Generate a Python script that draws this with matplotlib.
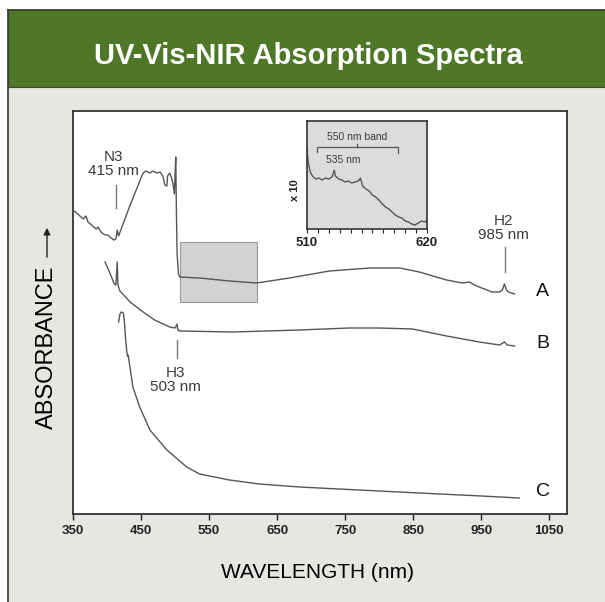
import matplotlib.pyplot as plt
from matplotlib.patches import Rectangle
from matplotlib.lines import Line2D

plt.rcParams['font.family'] = ['Liberation Sans', 'DejaVu Sans']

# spectra, wavelength (nm) vs absorbance (arbitrary units, offset per trace)
a_nm = [350, 357, 365, 369, 372, 379, 384, 387, 391, 397, 401, 406, 410, 413, 415, 417,
        434, 453, 457, 463, 467, 473, 478, 482, 485, 488, 489, 492, 495, 497, 499, 500,
        501, 502, 503, 505, 507, 536, 580, 620, 668, 727, 786, 830, 859, 899, 922, 933,
        940, 947, 966, 977, 981, 984, 987, 990, 999]
a_abs = [304, 300, 295, 298, 292, 288, 285, 287, 282, 279, 279, 276, 274, 275, 284, 278,
         309, 341, 343, 341, 343, 341, 342, 338, 329, 328, 338, 341, 336, 330, 320, 340,
         357, 300, 260, 240, 237, 236, 233, 231, 236, 243, 246, 246, 242, 234, 231, 232,
         229, 227, 222, 222, 224, 230, 224, 222, 220]

b_nm = [397, 401, 406, 410, 413, 415, 416, 419, 434, 453, 470, 492, 500, 503, 504, 507,
        585, 683, 756, 800, 849, 899, 947, 977, 984, 988, 999]
b_abs = [252, 246, 238, 231, 229, 252, 229, 223, 212, 202, 194, 187, 186, 190, 184, 183,
         182, 184, 186, 186, 185, 178, 172, 169, 172, 169, 168]

c_nm = [417, 419, 421, 424, 425, 426, 427, 428.8, 430, 431, 433.7, 438, 448, 463, 488,
        517, 536, 580, 624, 683, 712, 800, 859, 950, 1006]
c_abs = [192, 200, 202, 201, 196, 188, 178, 164, 158, 159, 147, 127, 107, 84, 64,
         47, 40, 34, 30, 27, 26, 23, 21, 18, 16]

# x10 expanded view of trace A, 510-620 nm
ins_nm = [510, 511, 513, 515, 518, 521, 524, 527, 530, 533, 535, 536, 539, 542, 545, 548,
          551, 554, 557, 559, 561, 564, 567, 570, 573, 576, 579, 582, 585, 588, 591, 594,
          597, 600, 603, 606, 609, 612, 615, 618, 620]
ins_abs = [81, 67, 57, 53, 50, 51, 49, 51, 50, 52, 59, 53, 50, 49, 47, 48,
           46, 47, 48, 51, 43, 40, 38, 34, 32, 29, 25, 22, 20, 17, 14, 12,
           11, 8, 7, 5, 4, 6, 8, 7, 9]

xticks = [350, 450, 550, 650, 750, 850, 950, 1050]
trace_labels = ['A', 'B', 'C']
trace_label_y = [222, 170, 22]
peaks = [('N3\n415 nm', 413, 350, 306, 329),
         ('H3\n503 nm', 503, 134, 156, 174),
         ('H2\n985 nm', 985, 286, 242, 267)]

line_col = '#555555'
ann_col = '#3a3a3a'

fig = plt.figure(figsize=(6.05, 6.02), dpi=100, facecolor='white')

# page background, green banner and frame
fig.patches.append(Rectangle((8 / 605, 0), 1, 515 / 602, transform=fig.transFigure,
                             facecolor='#e6e6e3', edgecolor='none', zorder=-5))
fig.patches.append(Rectangle((8 / 605, 515 / 602), 1, 77 / 602, transform=fig.transFigure,
                             facecolor='#4e7828', edgecolor='none', zorder=-5))
fig.lines.append(Line2D([8 / 605, 8 / 605], [0, 592 / 602], transform=fig.transFigure,
                        color='#333333', lw=1.2, zorder=-4))
fig.lines.append(Line2D([8 / 605, 1], [592 / 602, 592 / 602], transform=fig.transFigure,
                        color='#2a3a1a', lw=1.2, zorder=-4))
fig.lines.append(Line2D([8 / 605, 1], [515 / 602, 515 / 602], transform=fig.transFigure,
                        color='#3a4a2a', lw=0.8, zorder=-4))
fig.text(308 / 605, 546 / 602, 'UV-Vis-NIR Absorption Spectra', color='white',
         fontsize=21, fontweight='bold', ha='center', va='center')

ax = fig.add_axes([73 / 605, 88 / 602, 494 / 605, 403 / 602])
ax.set_facecolor('white')
ax.plot(a_nm, a_abs, color=line_col, lw=1.0, zorder=3)
ax.plot(b_nm, b_abs, color=line_col, lw=1.0, zorder=3)
ax.plot(c_nm, c_abs, color=line_col, lw=1.0, zorder=3)

# region shown in the inset
ax.add_patch(Rectangle((507, 212), 113, 60, facecolor='#d2d2d2', edgecolor='#999999',
                       lw=0.8, zorder=1))

for lab, ly in zip(trace_labels, trace_label_y):
    ax.text(1040, ly, lab, fontsize=14, color='#111111', ha='center', va='center')

for txt, x, ty, y0, y1 in peaks:
    ax.text(x - 3, ty, txt, fontsize=11, color=ann_col, ha='center', va='center',
            linespacing=0.95)
    ax.plot([x, x], [y0, y1], color='#777777', lw=1.0)

ax.set_xlim(350, 1076)
ax.set_ylim(0, 403)
ax.set_xticks(xticks)
ax.set_yticks([])
ax.tick_params(axis='x', direction='out', length=4, width=1, pad=4, labelsize=9.5,
               colors='#222222')
for t in ax.get_xticklabels():
    t.set_fontweight('bold')
for s in ax.spines.values():
    s.set_color('#333333')
    s.set_linewidth(1.3)

fig.text(317 / 605, 30 / 602, 'WAVELENGTH (nm)', fontsize=15, color='#000000',
         ha='center', va='center')
fig.text(47 / 605, 255 / 602, 'ABSORBANCE', fontsize=17, color='#000000', rotation=90,
         ha='center', va='center')
ax.annotate('', xy=(47 / 605, 377 / 602), xytext=(47 / 605, 342 / 602),
            xycoords='figure fraction', textcoords='figure fraction',
            annotation_clip=False,
            arrowprops=dict(arrowstyle='-|>', color='#222222', lw=1.0, mutation_scale=10))

# inset
axi = fig.add_axes([307 / 605, 373 / 602, 120 / 605, 108 / 602])
axi.set_facecolor('#dcdcdc')
axi.plot(ins_nm, ins_abs, color=line_col, lw=1.0)
axi.set_xlim(510, 620)
axi.set_ylim(0, 108)
axi.set_xticks([510, 620])
axi.set_xticks(list(range(520, 620, 10)), minor=True)
axi.set_yticks([])
axi.tick_params(axis='x', which='both', direction='out', length=3, width=0.8, pad=3,
                labelsize=9.5, colors='#222222')
for t in axi.get_xticklabels():
    t.set_fontweight('bold')
for s in axi.spines.values():
    s.set_color('#333333')
    s.set_linewidth(1.2)

# 550 nm band bracket
axi.plot([519, 519, 593.5, 593.5], [77, 82, 82, 76], color='#555555', lw=0.9)
axi.plot([556, 556], [82, 85], color='#555555', lw=0.9)
axi.text(556, 92, '550 nm band', fontsize=7.5, color=ann_col, ha='center', va='center')
axi.text(543, 69, '535 nm', fontsize=7.5, color=ann_col, ha='center', va='center')
axi.text(-0.1, 0.36, 'x 10', transform=axi.transAxes, fontsize=8, fontweight='bold',
         color='#222222', rotation=90, ha='center', va='center')

fig.savefig('out.png', dpi=100, facecolor=fig.get_facecolor())
